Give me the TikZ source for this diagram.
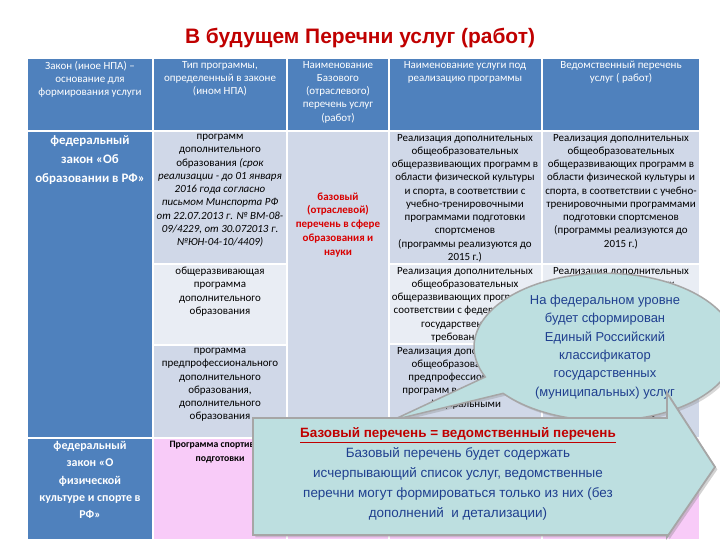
\documentclass[tikz,border=0pt]{standalone}
\usepackage{fontspec}
\setmainfont{Carlito}
\newfontfamily\arialf{Liberation Sans}
\usetikzlibrary{shapes.callouts,shadows}
\definecolor{hblue}{HTML}{4F81BD}
\definecolor{cellA}{HTML}{D0D8E8}
\definecolor{cellB}{HTML}{E9EDF4}
\definecolor{cellP}{HTML}{F8CBF8}
\definecolor{ttl}{HTML}{C00000}
\definecolor{calf}{HTML}{BDDFE0}
\definecolor{calt}{HTML}{1F3F8F}
\tikzset{
 cellbox/.style={draw=white,line width=1.2bp},
 ctext/.style={align=center,font=\fontsize{11}{13.3}\selectfont,inner sep=0pt},
 htext/.style={ctext,text=white},
}
\begin{document}
\begin{tikzpicture}[x=1bp,y=-1bp]
\useasboundingbox (0,0) rectangle (720,540);
\fill[white] (0,0) rectangle (720,540);
\node (title) at (360,38) {\arialf\bfseries\fontsize{21}{24}\selectfont\color{ttl}В будущем Перечни услуг (работ)};
% header
\foreach \a/\b in {27/153,153/287,287/389,389/542,542/700}{
 \fill[hblue,cellbox] (\a,58) rectangle (\b,131);}
\node[htext,anchor=north] (h1) at (90,61) {Закон (иное НПА) --\\основание для\\формирования услуги};
\node[htext,anchor=north] (h2) at (220,61) {Тип программы,\\определенный в законе\\(ином НПА)};
\node[htext,anchor=north] (h3) at (338,61) {Наименование\\Базового\\(отраслевого)\\перечень услуг\\(работ)};
\node[htext,anchor=north] (h4) at (465,61) {Наименование услуги под\\реализацию программы};
\node[htext,anchor=north] (h5) at (621,61) {Ведомственный перечень\\услуг ( работ)};
% col1
\fill[hblue,cellbox] (27,131) rectangle (153,438);
\fill[hblue,cellbox] (27,438) rectangle (153,540);
\node[htext,font=\bfseries\fontsize{13}{19}\selectfont] (l1) at (90,160) {федеральный\\закон «Об\\образовании в РФ»};
\node[htext,font=\bfseries\fontsize{12}{17.5}\selectfont] (l2) at (90,480) {федеральный\\закон «О\\физической\\культуре и спорте в\\РФ»};
% col2
\fill[cellA,cellbox] (153,131) rectangle (287,264);
\fill[cellB,cellbox] (153,264) rectangle (287,345);
\fill[cellA,cellbox] (153,345) rectangle (287,438);
\fill[cellP,cellbox] (153,438) rectangle (287,540);
\node[ctext,anchor=north] (t1) at (220,134) {программ\\дополнительного\\образования \textit{(срок}\\\textit{реализации - до 01 января}\\\textit{2016 года согласно}\\\textit{письмом Минспорта РФ}\\\textit{от 22.07.2013 г. № ВМ-08-}\\\textit{09/4229, от 30.072013 г.}\\\textit{№ЮН-04-10/4409)}};
\node[ctext,anchor=north] (t2) at (220,267) {общеразвивающая\\программа\\дополнительного\\образования};
\node[ctext,anchor=north] (t3) at (220,348) {программа\\предпрофессионального\\дополнительного\\образования,\\дополнительного\\образования};
\node[ctext,anchor=north,font=\bfseries\fontsize{9.8}{14}\selectfont] (t4) at (220,441) {Программа спортивной\\подготовки};
% col3
\fill[cellA,cellbox] (287,131) rectangle (389,438);
\fill[cellP,cellbox] (287,438) rectangle (389,540);
\node[ctext,text=red!85!black,font=\bfseries\fontsize{11}{14}\selectfont] (b1) at (338,225) {базовый\\(отраслевой)\\перечень в сфере\\образования и\\науки};
% col4, col5
\foreach \a/\b in {389/542,542/700}{
 \fill[cellA,cellbox] (\a,131) rectangle (\b,264);
 \fill[cellB,cellbox] (\a,264) rectangle (\b,344);
 \fill[cellA,cellbox] (\a,344) rectangle (\b,438);
 \fill[cellP,cellbox] (\a,438) rectangle (\b,540);}
\node[ctext,anchor=north] (s1) at (465,134) {Реализация дополнительных\\общеобразовательных\\общеразвивающих программ в\\области физической культуры\\и спорта, в соответствии с\\учебно-тренировочными\\программами подготовки\\спортсменов\\(программы реализуются до\\2015 г.)};
\node[ctext,anchor=north] (v1) at (621,134) {Реализация дополнительных\\общеобразовательных\\общеразвивающих программ в\\области физической культуры и\\спорта, в соответствии с учебно-\\тренировочными программами\\подготовки спортсменов\\(программы реализуются до\\2015 г.)};
\node[ctext,anchor=north] (s2) at (465,267) {Реализация дополнительных\\общеобразовательных\\общеразвивающих программ в\\соответствии с федеральными\\государственными\\требованиями};
\node[ctext,anchor=north] (v2) at (621,267) {Реализация дополнительных\\общеобразовательных\\общеразвивающих программ в\\соответствии с федеральными\\государственными\\требованиями};
\node[ctext,anchor=north] (s3) at (465,347) {Реализация дополнительных\\общеобразовательных\\предпрофессиональных\\программ в соответствии с\\федеральными};
\node[ctext,anchor=north] (v3) at (621,347) {Реализация дополнительных\\общеобразовательных\\предпрофессиональных\\программ в соответствии с\\федеральными\\требованиями};
% oval callout
\coordinate (tip1) at (393,420);
\node[ellipse callout,callout absolute pointer={(tip1)},fill=calf,draw=gray!70,line width=1.5bp,
 minimum width=262bp,minimum height=128bp,inner sep=0pt,drop shadow={opacity=0.3},
 align=center,text=calt,font=\arialf\fontsize{13}{18.5}\selectfont] (oval) at (605,347)
 {На федеральном уровне\\будет сформирован\\Единый Российский\\классификатор\\государственных\\(муниципальных) услуг};
% rectangular arrow callout
\draw[fill=calf,draw=gray!70,line width=1.8bp,drop shadow={opacity=0.35}]
 (253,418) -- (667,418) -- (667,393) -- (715,467) -- (667,537) -- (667,535) -- (253,535) -- cycle;
\node[align=center,inner sep=0pt,font=\arialf\fontsize{13.5}{20}\selectfont,text=calt] (btxt) at (458,474)
 {{\bfseries\color{ttl}\underline{Базовый перечень = ведомственный перечень}}\\
 Базовый перечень будет содержать\\исчерпывающий список услуг, ведомственные\\перечни могут формироваться только из них (без\\дополнений\ \ и детализации)};
\end{tikzpicture}
\end{document}
